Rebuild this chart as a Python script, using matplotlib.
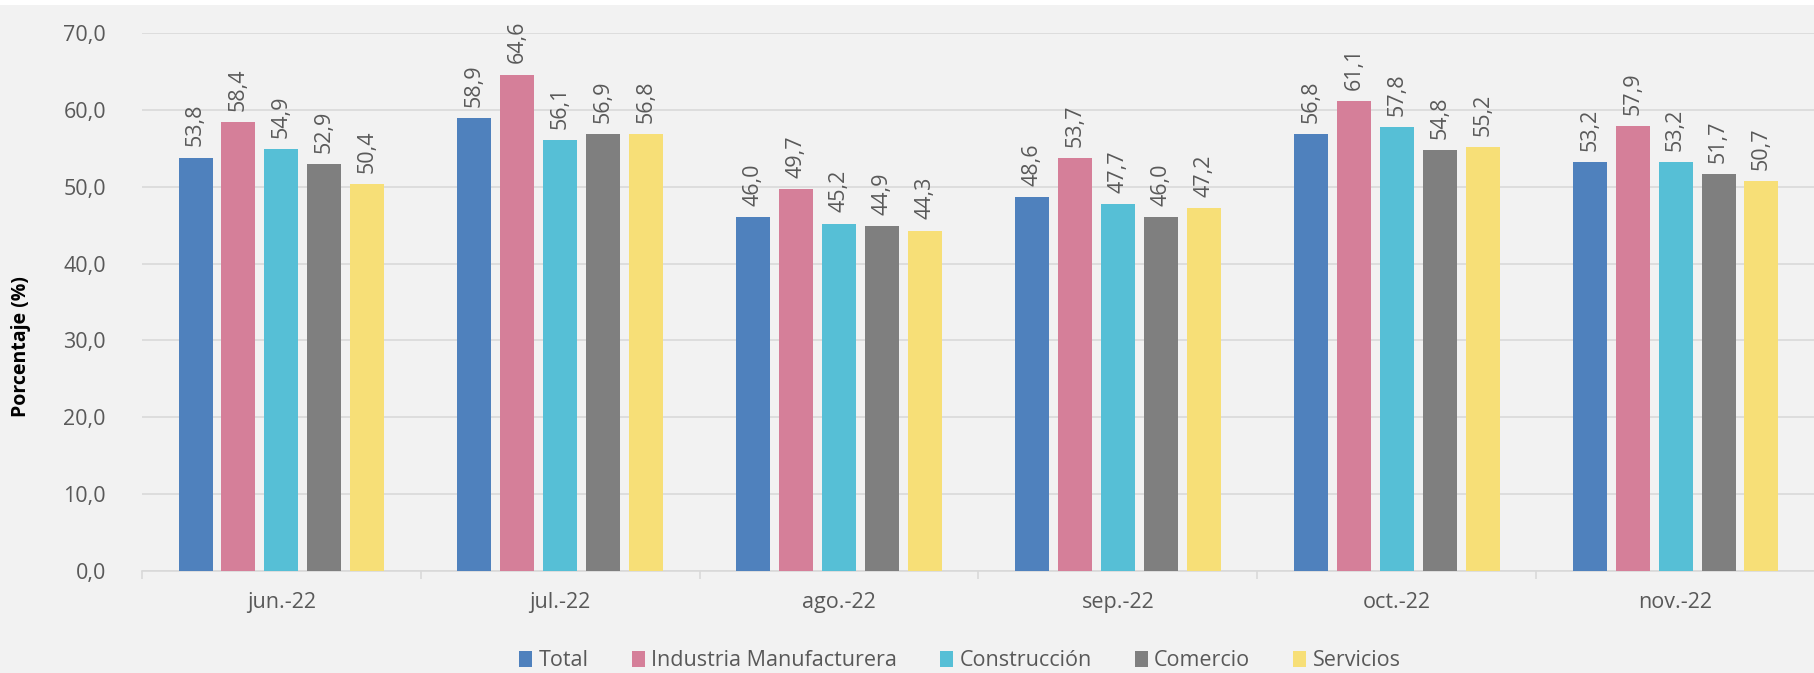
import numpy as np
import matplotlib.pyplot as plt
from matplotlib.patches import Rectangle

plt.rcParams['font.family'] = ['Open Sans', 'DejaVu Sans']

meses = ['jun.-22', 'jul.-22', 'ago.-22', 'sep.-22', 'oct.-22', 'nov.-22']
total = [53.8, 58.9, 46.0, 48.6, 56.8, 53.2]
industria = [58.4, 64.6, 49.7, 53.7, 61.1, 57.9]
construccion = [54.9, 56.1, 45.2, 47.7, 57.8, 53.2]
comercio = [52.9, 56.9, 44.9, 46.0, 54.8, 51.7]
servicios = [50.4, 56.8, 44.3, 47.2, 55.2, 50.7]

series = [total, industria, construccion, comercio, servicios]
nombres = ['Total', 'Industria Manufacturera', 'Construcción', 'Comercio', 'Servicios']
colores = ['#4F81BD', '#D57F99', '#56BFD6', '#7F7F7F', '#F7DF77']

bg = '#F2F2F2'
txt = '#595959'
fs = 15.5

fig = plt.figure(figsize=(18.15, 6.73), dpi=100, facecolor=bg)
# franja blanca superior
fig.patches.append(Rectangle((0, 1 - 5 / 673), 1, 5 / 673, transform=fig.transFigure,
                             facecolor='white', edgecolor='none', zorder=0))
ax = fig.add_axes([142 / 1815, 1 - 571 / 673, 1 - 142 / 1815, (571 - 33) / 673])
ax.set_facecolor(bg)

x = np.arange(len(meses))
paso = 0.154
ancho = 0.122
for i, (vals, nom, col) in enumerate(zip(series, nombres, colores)):
    pos = x + (i - 2) * paso
    ax.bar(pos, vals, ancho, color=col, label=nom, zorder=3)
    for px, v in zip(pos, vals):
        ax.annotate(f'{v:.1f}'.replace('.', ','), (px, v), xytext=(0, 8),
                    textcoords='offset points', rotation=90, ha='center',
                    va='bottom', fontsize=fs, color=txt)

ax.set_xlim(-0.5, len(meses) - 0.5)
ax.set_ylim(0, 70)
yt = np.arange(0, 71, 10)
ax.set_yticks(yt)
ax.set_yticklabels([f'{v:.1f}'.replace('.', ',') for v in yt], fontsize=fs, color=txt)
ax.set_xticks(x)
ax.set_xticklabels(meses, fontsize=fs, color=txt)
ax.set_xticks(np.arange(-0.5, len(meses), 1), minor=True)
ax.tick_params(axis='x', which='major', length=0, pad=15)
ax.tick_params(axis='x', which='minor', length=6, color='#D9D9D9', width=1.2)
ax.tick_params(axis='y', length=0, pad=26)
ax.grid(axis='y', color='#D9D9D9', linewidth=1.2, zorder=0)
for s in ['top', 'right', 'left']:
    ax.spines[s].set_visible(False)
ax.spines['bottom'].set_color('#D9D9D9')
ax.spines['bottom'].set_linewidth(1.2)

fig.text(21 / 1815, 1 - 347 / 673, 'Porcentaje (%)', rotation=90, ha='center',
         va='center', fontsize=14, fontweight='bold', color='black')

fig.legend(loc='center', bbox_to_anchor=(960 / 1815, 1 - 661 / 673), ncol=5,
           frameon=False, fontsize=fs, handlelength=0.6, handleheight=0.8,
           handletextpad=0.3, columnspacing=2.0, labelcolor=txt)

fig.savefig('out.png', dpi=100, facecolor=bg)
